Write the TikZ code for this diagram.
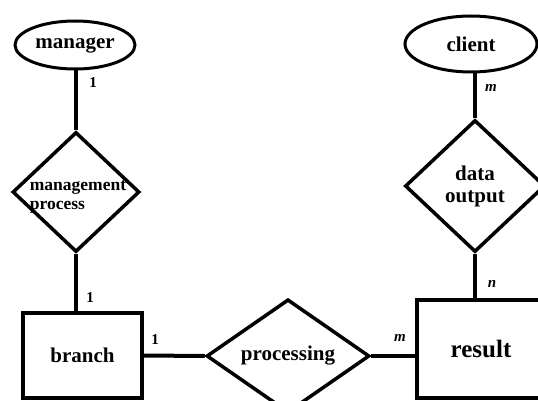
\documentclass[tikz,border=0pt]{standalone}
\usepackage{fontspec}
\setmainfont{Liberation Serif}
\usetikzlibrary{shapes.geometric}

\begin{document}
\begin{tikzpicture}[x=1pt, y=-1pt,
        entity/.style={draw, line width=3.5pt, rectangle, inner sep=0pt},
        attr/.style={draw, line width=3pt, ellipse, inner sep=0pt},
        rel/.style={draw, line width=3.5pt, diamond, inner sep=0pt},
        etext/.style={font=\fontsize{21}{22}\selectfont\bfseries},
        card/.style={font=\fontsize{15}{15}\selectfont\bfseries, inner sep=0pt},
        link/.style={line width=4pt}]
        \clip (0, 0) rectangle (538, 401);

        % entities and attributes
        \node[attr, etext, minimum width=120pt, minimum height=48pt] (manager) at (75, 45) {manager};
        \node[attr, etext, minimum width=132pt, minimum height=56pt] (client) at (471, 44) {client};
        \node[entity, etext, minimum width=119pt, minimum height=85pt] (branch) at (82.5, 355.5) {branch};
        \node[entity, etext, minimum width=128pt, minimum height=98pt, font=\fontsize{25}{26}\selectfont\bfseries] (result) at (481, 349) {result};

        % relationships
        \node[rel, minimum width=127pt, minimum height=120pt] (mgmt) at (76, 192) {};
        \node[etext, font=\fontsize{17.5}{19.5}\selectfont\bfseries, align=left, inner sep=0pt] (mgmtText) at (78, 197) {management\\process};
        \node[rel, etext, minimum width=163pt, minimum height=108pt] (proc) at (288, 356) {processing};
        \node[rel, etext, align=center, minimum width=140pt, minimum height=132pt] (dataout) at (475, 186) {data\\output};

        % connectors
        \draw[link] (mgmt.north |- manager.south) -- (mgmt.north);
        \draw[link] (mgmt.south) -- (mgmt.south |- branch.north);
        \draw[link] (branch.east) -- (proc.west);
        \draw[link] (proc.east) -- (proc.east -| result.west);
        \draw[link] (dataout.north |- client.south) -- (dataout.north);
        \draw[link] (dataout.south) -- (dataout.south |- result.north);

        % cardinalities
        \node[card] (c1) at (93, 83) {1};
        \node[card] (c2) at (90, 298) {1};
        \node[card] (c3) at (155, 340) {1};
        \node[card] (c4) at (400, 338) {\itshape m};
        \node[card] (c5) at (491, 88) {\itshape m};
        \node[card] (c6) at (492, 284) {\itshape n};
    \end{tikzpicture}
\end{document}
